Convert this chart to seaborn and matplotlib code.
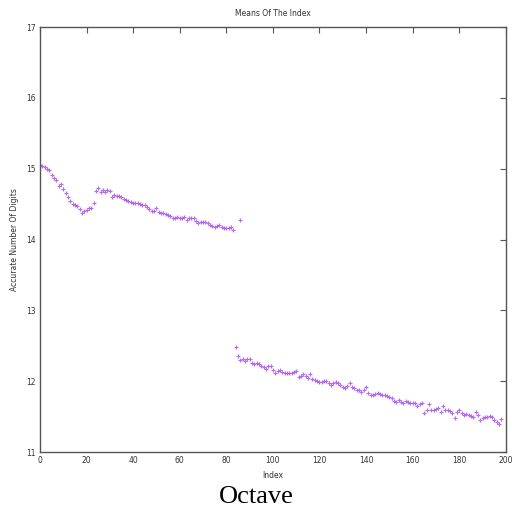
import matplotlib
matplotlib.use("Agg")
import matplotlib.pyplot as plt
import seaborn as sns
import pandas as pd

# Upper group: mean accurate digits for indices 0..83, plus one stray at 86
upper_index = list(range(0, 84)) + [86]
upper_digits = [
    15.05, 15.04, 15.03, 15.00, 14.98, 14.91, 14.87, 14.84, 14.76, 14.78,
    14.72, 14.66, 14.60, 14.55, 14.50, 14.49, 14.47, 14.43, 14.37, 14.40,
    14.42, 14.44, 14.45, 14.52, 14.68, 14.73, 14.67, 14.70, 14.67, 14.70,
    14.68, 14.60, 14.63, 14.62, 14.62, 14.60, 14.58, 14.56, 14.54, 14.53,
    14.52, 14.51, 14.52, 14.50, 14.49, 14.49, 14.46, 14.43, 14.41, 14.40,
    14.45, 14.39, 14.38, 14.37, 14.36, 14.35, 14.33, 14.31, 14.31, 14.32,
    14.31, 14.30, 14.32, 14.28, 14.30, 14.30, 14.30, 14.26, 14.24, 14.25,
    14.25, 14.25, 14.23, 14.21, 14.19, 14.18, 14.19, 14.21, 14.18, 14.17,
    14.17, 14.17, 14.18, 14.13,
    14.27,
]

# Lower group: indices 84..198
lower_index = list(range(84, 199))
lower_digits = [
    12.48, 12.35, 12.30, 12.31, 12.29, 12.32, 12.31, 12.26, 12.25, 12.26,
    12.24, 12.22, 12.20, 12.18, 12.21, 12.22, 12.16, 12.11, 12.15, 12.16,
    12.13, 12.11, 12.12, 12.12, 12.11, 12.13, 12.14, 12.06, 12.08, 12.10,
    12.07, 12.04, 12.10, 12.03, 12.02, 12.00, 11.99, 11.99, 12.00, 12.01,
    11.97, 11.95, 11.97, 11.99, 11.97, 11.95, 11.92, 11.90, 11.93, 11.97,
    11.92, 11.90, 11.88, 11.87, 11.85, 11.88, 11.92, 11.84, 11.80, 11.81,
    11.82, 11.83, 11.82, 11.80, 11.81, 11.79, 11.78, 11.76, 11.72, 11.71,
    11.73, 11.71, 11.70, 11.72, 11.71, 11.70, 11.69, 11.70, 11.65, 11.68,
    11.69, 11.55, 11.59, 11.68, 11.60, 11.59, 11.61, 11.62, 11.57, 11.65,
    11.60, 11.59, 11.58, 11.55, 11.48, 11.56, 11.59, 11.55, 11.53, 11.54,
    11.53, 11.51, 11.50, 11.56, 11.52, 11.45, 11.48, 11.49, 11.50, 11.51,
    11.50, 11.45, 11.43, 11.39, 11.47,
]

x_ticks = list(range(0, 201, 20))
y_ticks = list(range(11, 18))

df = pd.DataFrame({
    "Index": upper_index + lower_index,
    "Digits": upper_digits + lower_digits,
})

sns.set_style("white")
plt.rcParams["font.family"] = ["DejaVu Sans"]

fig = plt.figure(figsize=(5.12, 5.12), dpi=100)
ax = fig.add_axes([0.078, 0.117, 0.910, 0.830])

sns.scatterplot(data=df, x="Index", y="Digits", ax=ax, marker="+",
                s=12, color="#a955ea", linewidth=0.85, alpha=0.85,
                legend=False)

ax.set_xlim(0, 200)
ax.set_ylim(11, 17)
ax.set_xticks(x_ticks)
ax.set_yticks(y_ticks)

grey = "#555555"
for sp in ax.spines.values():
    sp.set_visible(True)
    sp.set_color(grey)
    sp.set_linewidth(1.0)
ax.tick_params(axis="both", which="major", direction="in", length=4,
               width=0.8, color=grey, labelsize=5.5, labelcolor="#333333",
               top=True, right=True, pad=3)

ax.set_title("Means Of The Index", fontsize=5.5, color="#333333", pad=8)
ax.set_xlabel("Index", fontsize=5.5, color="#333333", labelpad=4)
ax.set_ylabel("Accurate Number Of Digits", fontsize=5.5, color="#333333",
              labelpad=5)

fig.text(0.5, 0.029, "Octave", ha="center", va="center", fontsize=19,
         family=["Liberation Serif", "DejaVu Serif"], color="black")

fig.savefig("out.png", dpi=100, facecolor="white")
